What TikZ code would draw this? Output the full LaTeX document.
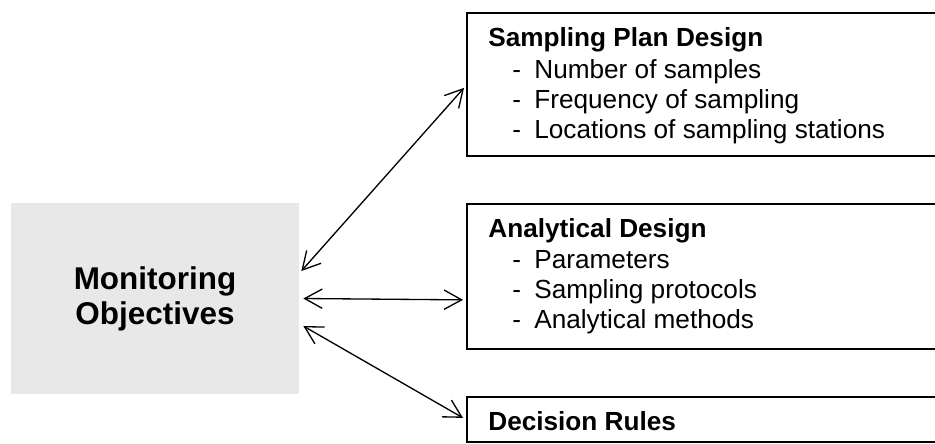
\documentclass[tikz,border=0pt]{standalone}
\usepackage{fontspec}
\setmainfont{Liberation Sans}
\usetikzlibrary{positioning,arrows.meta}
\usepackage{xcolor}
\definecolor{objgray}{RGB}{232,232,232}

% list entry with a hanging dash
\newcommand{\itm}[1]{\makebox[0.44cm][l]{-}#1}

\begin{document}
\begin{tikzpicture}[x=0.02cm,y=0.02cm,
          every node/.style={font=\fontsize{14.9}{17}\selectfont},
          objbox/.style={fill=objgray,minimum width=5.76cm,minimum height=3.82cm,
            align=center,font=\fontsize{17.9}{19.8}\selectfont\bfseries},
          panel/.style={draw,line width=1pt,anchor=north west,minimum width=9.68cm,inner sep=0pt},
          txt/.style={anchor=base west,inner sep=0pt},
          head/.style={txt,font=\fontsize{14.9}{17}\selectfont\bfseries},
          link/.style={line width=0.75pt,>={Straight Barb[length=10pt,width=11pt]},<->},
        ]
        \useasboundingbox (0,0) rectangle (935,-443);
        \clip (0,0) rectangle (935,-443);

        \node[objbox] (obj) at (155,-298.5) {Monitoring\\Objectives};

        % the three panels run off the right edge
        \node[panel,minimum height=2.86cm] (plan)  at (466,-12)  {};
        \node[panel,minimum height=2.9cm]  (anal)  at (466,-203) {};
        \node[panel,minimum height=0.9cm]  (rules) at (466,-396) {};

        \node[head] (pt) at (488,-46)  {Sampling Plan Design};
        \node[txt]  (pa) at (512,-78)  {\itm{Number of samples}};
        \node[txt]  (pb) at (512,-108) {\itm{Frequency of sampling}};
        \node[txt]  (pc) at (512,-138) {\itm{Locations of sampling stations}};

        \node[head] (at) at (488,-237) {Analytical Design};
        \node[txt]  (aa) at (512,-268) {\itm{Parameters}};
        \node[txt]  (ab) at (512,-298) {\itm{Sampling protocols}};
        \node[txt]  (ac) at (512,-328) {\itm{Analytical methods}};

        \node[head] (rt) at (488,-430) {Decision Rules};

        \draw[link] ([shift={(2,27.5)}]obj.east) -- ([shift={(-2,-3.5)}]plan.west);
        \draw[link] ([shift={(4,0)}]obj.east) -- ([shift={(-3,-23.5)}]anal.west);
        \draw[link] ([shift={(4,-27.5)}]obj.east) -- ([shift={(-3,1.5)}]rules.west);
      \end{tikzpicture}
\end{document}
